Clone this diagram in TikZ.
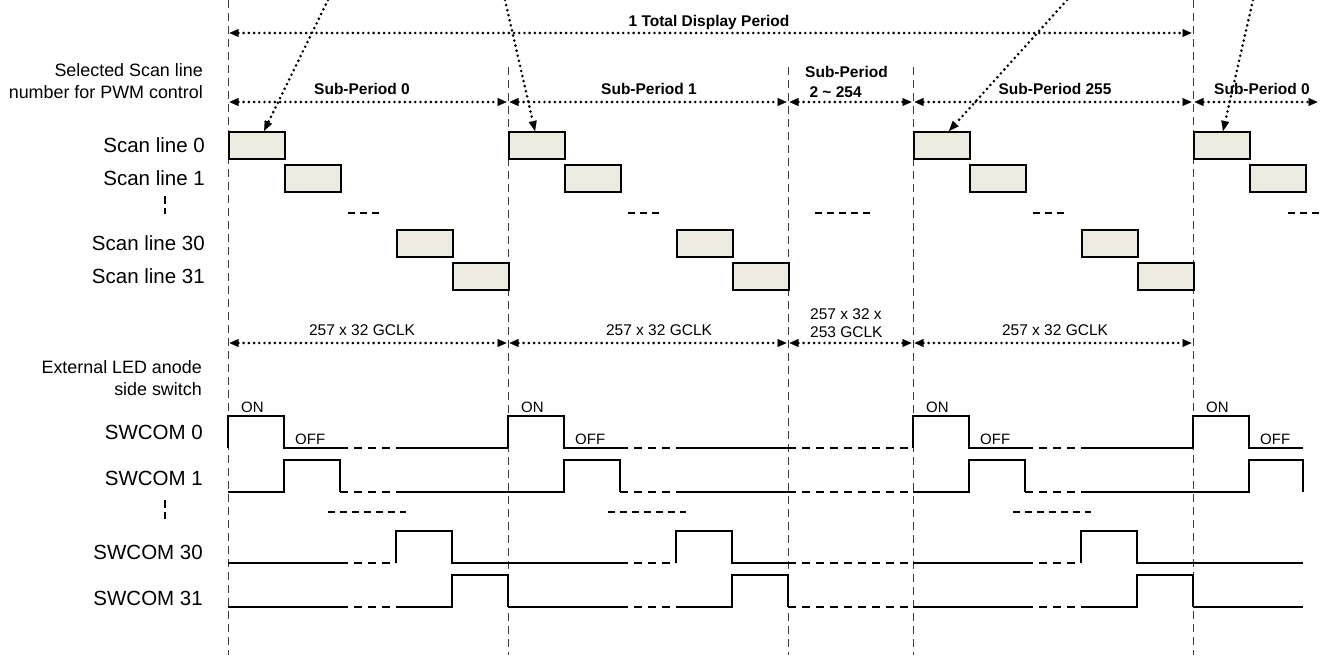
\documentclass[tikz,border=0pt]{standalone}
\usepackage{fontspec}
\setmainfont{Liberation Sans}
\usetikzlibrary{arrows.meta, positioning}
\definecolor{slotfill}{RGB}{237,234,223}
\definecolor{rule}{RGB}{60,60,60}

\begin{document}
\begin{tikzpicture}[x=1pt, y=-1pt,
    lbl/.style={font=\fontsize{20.5}{24}\selectfont, inner sep=0pt, anchor=base east},
    note/.style={font=\fontsize{17.9}{22}\selectfont, inner sep=0pt, align=right, anchor=north east},
    per/.style={font=\bfseries\fontsize{15.5}{20}\selectfont, inner sep=0pt, anchor=base},
    clk/.style={font=\fontsize{15.5}{18}\selectfont, inner sep=0pt, anchor=base},
    state/.style={font=\fontsize{15}{18}\selectfont, inner sep=0pt, anchor=base west},
    slot/.style={draw, line width=2pt, fill=slotfill, minimum width=56pt,
                 minimum height=27pt, inner sep=0pt, anchor=north west},
    guide/.style={draw=rule, line width=1pt, dash pattern=on 8pt off 5pt},
    span/.style={{Triangle[length=9pt,width=8pt,line width=0.1pt]}-{Triangle[length=9pt,width=8pt,line width=0.1pt]},
                 line width=2.9pt, line cap=round, dash pattern=on 0pt off 5.2pt,
                 shorten <=1.5pt, shorten >=1.5pt},
    hint/.style={-{Triangle[length=10pt,width=8pt,line width=0.1pt]},
                 line width=2.9pt, line cap=round, dash pattern=on 0pt off 5.2pt},
    wave/.style={line width=2pt},
    gap/.style={wave, dash pattern=on 8pt off 6pt},
    more/.style={line width=2pt, dash pattern=on 7pt off 5pt},
    vdots/.style={line width=2.6pt, dash pattern=on 8pt off 4pt}
]
\useasboundingbox (0,0) rectangle (1325,661);

% time guides
\draw[guide] (228,0) -- (228,655);
\foreach \x in {508,788,913} \draw[guide] (\x,67) -- (\x,655);
\draw[guide] (1193,0) -- (1193,655);

% period arrows
\coordinate (d0) at (228,33);
\coordinate (d1) at (1193,33);
\draw[span] (d0) -- (d1);
\node[per] (total) at (709,27) {1 Total Display Period};
\foreach \x [count=\i from 0] in {228,508,788,913,1193,1319}{
  \coordinate (s\i) at (\x,102);
  \coordinate (c\i) at (\x,343);
}
\foreach \a/\b in {0/1,1/2,2/3,3/4,4/5} \draw[span] (s\a) -- (s\b);
\foreach \a/\b in {0/1,1/2,2/3,3/4} \draw[span] (c\a) -- (c\b);
\node[per] (sub0) at (362,95) {Sub-Period 0};
\node[per] (sub1) at (649,95) {Sub-Period 1};
\node[per, anchor=north west, align=left] (sub2) at (805,66) {Sub-Period\\\hspace{4.3pt}2 \textasciitilde{} 254};
\node[per] (sub255) at (1055,95) {Sub-Period 255};
\node[per] (sub0b) at (1262,95) {Sub-Period 0};
\node[clk] (clk0) at (362,335) {257 x 32 GCLK};
\node[clk] (clk1) at (659,335) {257 x 32 GCLK};
\node[clk, anchor=north west, align=left] (clk2) at (810,308) {257 x 32 x\\253 GCLK};
\node[clk] (clk255) at (1055,335) {257 x 32 GCLK};

% scan lines
\node[note] (selLbl) at (203,63) {Selected Scan line\\number for PWM control};
\node[lbl] (scan0) at (205,152) {Scan line 0};
\node[lbl] (scan1) at (205,185) {Scan line 1};
\node[lbl] (scan30) at (205,250) {Scan line 30};
\node[lbl] (scan31) at (205,283) {Scan line 31};
\draw[vdots] (165,196) -- (165,214);
\foreach \p/\t in {0/228, 1/508, 3/913}{
  \foreach \n/\dx/\y in {0/0/131, 1/56/164, 30/168/229, 31/224/262}
    \node[slot] (box\p-\n) at (\t+\dx,\y) {};
  \draw[more] (\t+120,213) -- (\t+153,213);
}
\foreach \n/\dx/\y in {0/0/131, 1/56/164}
  \node[slot] (box4-\n) at (1193+\dx,\y) {};
\draw[more] (815,213) -- (872,213);
\draw[more] (1288,213) -- (1321,213);

% pointers from above
\coordinate (h0) at (328,0);
\coordinate (h1) at (505,0);
\coordinate (h3) at (1067,0);
\coordinate (h4) at (1253,0);
\draw[hint] (h0) -- ([xshift=7pt]box0-0.north);
\draw[hint] (h1) -- ([xshift=-2pt]box1-0.north);
\draw[hint] (h3) -- ([xshift=7pt]box3-0.north);
\draw[hint] (h4) -- ([xshift=1pt]box4-0.north);

% anode side switches
\node[note] (ledLbl) at (202,360) {External LED anode\\side switch};
\node[lbl] (sw0) at (203,439) {SWCOM 0};
\node[lbl] (sw1) at (203,485) {SWCOM 1};
\node[lbl] (sw30) at (203,559) {SWCOM 30};
\node[lbl] (sw31) at (203,605) {SWCOM 31};
\draw[vdots] (165,500) -- (165,519);
\foreach \t [count=\i] in {228,508,913,1193}{
  \node[state] (on\i) at (\t+13,412) {ON};
  \node[state] (off\i) at (\t+67,444) {OFF};
}
\foreach \t in {228,508,913}{
  \draw[wave] (\t,448) |- (\t+56,416) |- (\t+112,448);
  \draw[gap] (\t+112,448) -- (\t+168,448);
  \draw[wave] (\t+168,448) -- (\t+280,448);
  \draw[wave] (\t,492) -| (\t+56,460) -| (\t+112,492);
  \draw[gap] (\t+112,492) -- (\t+168,492);
  \draw[wave] (\t+168,492) -- (\t+280,492);
  \draw[more] (\t+100,512) -- (\t+178,512);
  \draw[wave] (\t,563) -- (\t+112,563);
  \draw[gap] (\t+112,563) -- (\t+168,563);
  \draw[wave] (\t+168,563) |- (\t+224,531) |- (\t+280,563);
  \draw[wave] (\t,607) -- (\t+112,607);
  \draw[gap] (\t+112,607) -- (\t+168,607);
  \draw[wave] (\t+168,607) -| (\t+224,575) -| (\t+280,607);
}
\foreach \y in {448,492,563,607} \draw[gap] (788,\y) -- (913,\y);
\draw[wave] (1193,448) |- (1249,416) |- (1303,448);
\draw[wave] (1193,492) -| (1249,460) -| (1303,492);
\draw[wave] (1193,563) -- (1303,563);
\draw[wave] (1193,607) -- (1303,607);
\end{tikzpicture}
\end{document}
